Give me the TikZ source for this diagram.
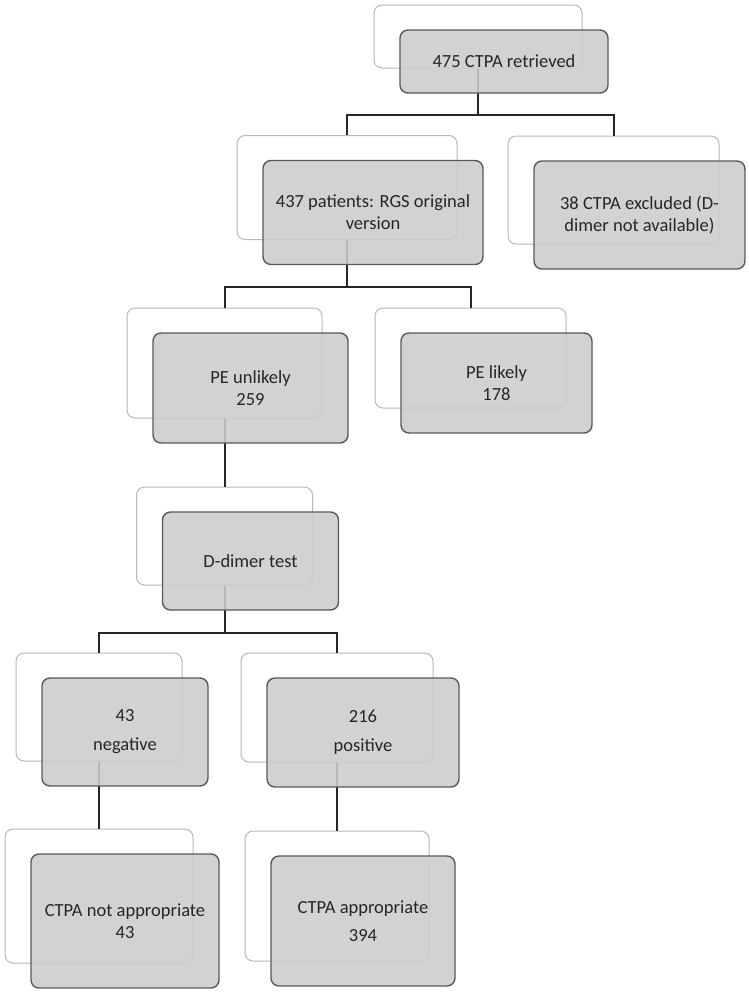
\documentclass[tikz,border=0pt]{standalone}
\usepackage{fontspec}
\setmainfont{Carlito}
\usetikzlibrary{backgrounds}
\tikzset{
  back/.style = {draw=gray!55, fill=white, line width=1pt, rounded corners=8pt, inner sep=0pt},
  front/.style = {draw=black!65, line width=1.4pt, fill=black!20, fill opacity=0.88, text opacity=1, text=black!85, rounded corners=8pt, inner sep=2pt, align=center, font=\fontsize{18.5}{22}\selectfont},
  link/.style = {color=black!85, line width=2pt}
}
\newcommand{\stackbox}[5]{%
  % #1: name of the box
  % #2: centre of the back box
  % #3: width, #4: height
  % #5: text
  \begin{pgfonlayer}{background}
    \node[back, minimum width=#3pt, minimum height=#4pt] (#1-bk) at (#2) {};
  \end{pgfonlayer}
  \node[front, minimum width=#3pt, minimum height=#4pt, xshift=26pt, yshift=-25pt] (#1) at (#2) {#5};
}

\begin{document}
\begin{tikzpicture}[x=1pt, y=-1pt]

    \useasboundingbox (0,0) rectangle (749,994);

    % Boxes
    \stackbox{retrieved}{478,36.5}{208}{63}{475 CTPA retrieved}
    \stackbox{patients}{347,187.5}{220}{104}{437 patients: RGS original\\version}
    \stackbox{excluded}{613.5,190}{211}{108}{38 CTPA excluded (D-\\dimer not available)}
    \stackbox{unlikely}{224.5,363}{195}{110}{PE unlikely\\259}
    \stackbox{likely}{470.5,358}{191}{100}{PE likely\\178}
    \stackbox{ddimer}{224.5,536}{176}{98}{D-dimer test}
    \stackbox{negative}{99,707}{166}{108}{43\\[7pt]negative}
    \stackbox{positive}{337,707.5}{192}{109}{216\\[7pt]positive}
    \stackbox{notappr}{99,896}{188}{134}{CTPA not appropriate\\43}
    \stackbox{appr}{337,896}{184}{130}{CTPA appropriate\\[6pt]394}

    % Links
    \begin{pgfonlayer}{background}
      \draw[link] (retrieved-bk.south) -- ++(0,46) coordinate (f1);
      \draw[link] (patients-bk.north) |- (f1) -| (excluded-bk.north);
      \draw[link] (patients-bk.south) -- ++(0,47) coordinate (f2);
      \draw[link] (unlikely-bk.north) |- (f2) -| (likely-bk.north);
      \draw[link] (unlikely-bk.south) -- (ddimer-bk.north);
      \draw[link] (ddimer-bk.south) -- ++(0,47) coordinate (f3);
      \draw[link] (negative-bk.north) |- (f3) -| (positive-bk.north);
      \draw[link] (negative-bk.south) -- (notappr-bk.north);
      \draw[link] (positive-bk.south) -- (appr-bk.north);
    \end{pgfonlayer}

\end{tikzpicture}
\end{document}
